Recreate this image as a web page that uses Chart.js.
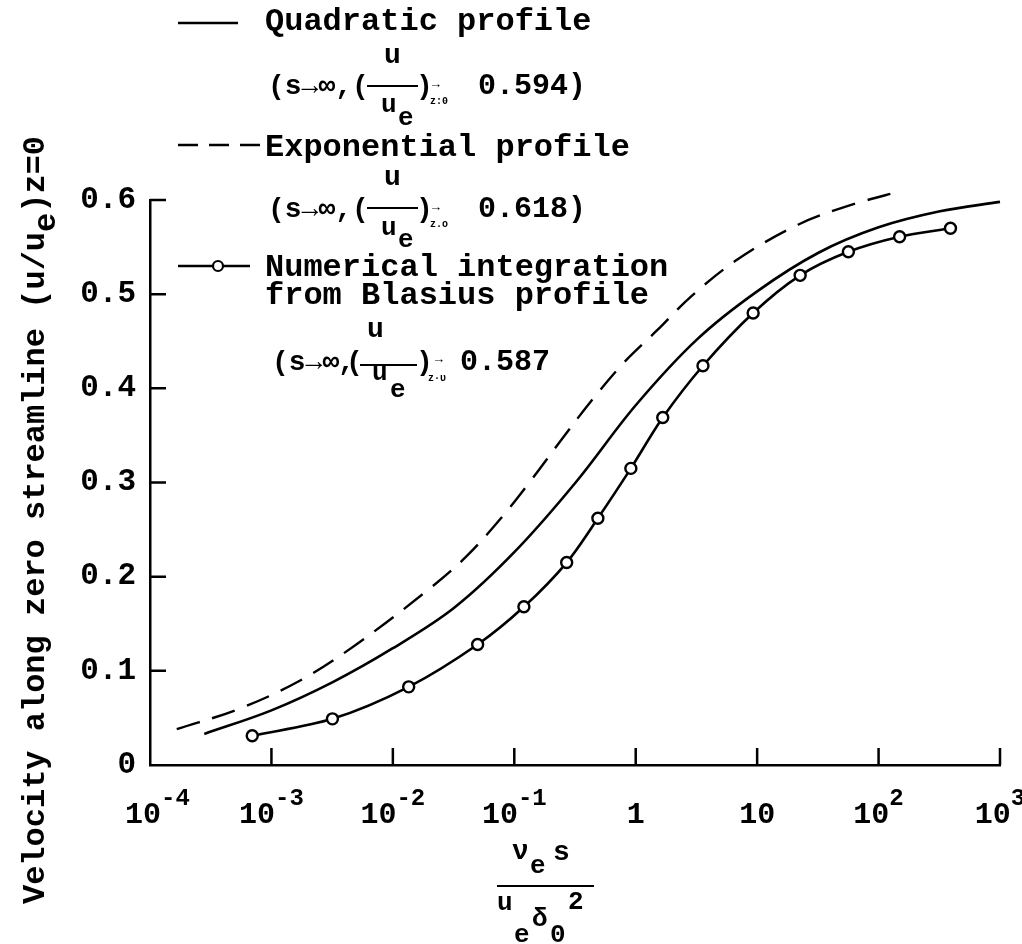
<!DOCTYPE html>
<html>
<head>
<meta charset="utf-8">
<script src="https://cdn.jsdelivr.net/npm/chart.js@4.4.1/dist/chart.umd.min.js"></script>
<style>
  html, body { margin: 0; padding: 0; background: #fff; }
  #wrap { position: relative; width: 1022px; height: 944px; overflow: hidden; background: #fff; }
  #c { position: absolute; left: 0; top: 0; }
  #marks { position: absolute; left: 0; top: 0; }
  .t {
    position: absolute;
    font-family: "Liberation Mono", "DejaVu Sans Mono", monospace;
    font-weight: bold;
    color: #000;
    white-space: pre;
    line-height: 1;
  }
  #ytitle {
    position: absolute;
    left: 36px;
    top: 520px;
    transform: translate(-50%, -50%) rotate(-90deg);
    font-family: "Liberation Mono", "DejaVu Sans Mono", monospace;
    font-weight: bold;
    font-size: 32px;
    line-height: 1;
    white-space: pre;
    color: #000;
  }
  #ytitle .sub { position: relative; top: 11px; }
</style>
</head>
<body>
<div id="wrap">
  <canvas id="c" width="1022" height="944"></canvas>
  <svg id="marks" width="1022" height="944">
    <!-- legend samples -->
    <line x1="178" y1="23" x2="238" y2="23" stroke="#000" stroke-width="2.5"/>
    <line x1="178" y1="145" x2="261" y2="145" stroke="#000" stroke-width="2.5" stroke-dasharray="20 11"/>
    <line x1="178" y1="266" x2="250" y2="266" stroke="#000" stroke-width="2.5"/>
    <circle cx="218" cy="266" r="5" fill="#fff" stroke="#000" stroke-width="2.2"/>
    <!-- fraction bars -->
    <line x1="367" y1="86" x2="418" y2="86" stroke="#000" stroke-width="2"/>
    <line x1="367" y1="208" x2="418" y2="208" stroke="#000" stroke-width="2"/>
    <line x1="360" y1="365" x2="417" y2="365" stroke="#000" stroke-width="2"/>
    <line x1="497" y1="886" x2="594" y2="886" stroke="#000" stroke-width="2"/>
  </svg>
  <div id="ytitle">Velocity along zero streamline (u/u<span class="sub">e</span>)z=0</div>
</div>
<script>
// ---------- DATA ----------
const quadX = [2.8e-4, 1e-3, 3.2e-3, 1e-2, 3.2e-2, 0.1, 0.32, 1, 3.2, 10, 32, 100, 320, 1000];
const quadY = [0.033, 0.058, 0.088, 0.124, 0.167, 0.226, 0.300, 0.382, 0.452, 0.503, 0.544, 0.571, 0.588, 0.598];

const expoX = [1.66e-4, 5.5e-4, 1.74e-3, 5.0e-3, 2.04e-2, 4.07e-2, 7.76e-2, 0.135, 0.24, 0.427, 0.794, 1.51, 2.88, 6.92, 21.9, 60.3, 158];
const expoY = [0.038, 0.060, 0.090, 0.128, 0.188, 0.222, 0.262, 0.301, 0.344, 0.386, 0.427, 0.462, 0.498, 0.537, 0.574, 0.595, 0.610];

const numX = [6.95e-4, 3.18e-3, 1.35e-2, 4.99e-2, 0.120, 0.270, 0.488, 0.912, 1.67, 3.58, 9.27, 22.6, 56.4, 149, 391];
const numY = [0.031, 0.049, 0.083, 0.128, 0.168, 0.215, 0.262, 0.315, 0.369, 0.424, 0.480, 0.520, 0.545, 0.561, 0.570];

const xTickValues = [1e-4, 1e-3, 1e-2, 1e-1, 1, 10, 1e2, 1e3];
const xTickBase = ["10", "10", "10", "10", "1", "10", "10", "10"];
const xTickExp = ["-4", "-3", "-2", "-1", "", "", "2", "3"];

const yTickValues = [0, 0.1, 0.2, 0.3, 0.4, 0.5, 0.6];
const yTickLabels = ["0", "0.1", "0.2", "0.3", "0.4", "0.5", "0.6"];

const FONT = '"Liberation Mono", "DejaVu Sans Mono", monospace';

// ---------- TEXT OVERLAY ----------
const wrap = document.getElementById("wrap");
function put(text, x, baseline, size) {
  const s = document.createElement("span");
  s.className = "t";
  s.textContent = text;
  s.style.fontSize = size + "px";
  s.style.left = x + "px";
  s.style.top = (baseline - 0.766 * size) + "px";
  wrap.appendChild(s);
}

// legend
put("Quadratic profile", 265, 31, 32);
put("u", 384, 63, 28);
put("(s\u2192\u221e,(", 268, 94, 28);
put(")", 416, 94, 28);
put("\u2192", 432, 88, 13);
put("z:0", 430, 105, 10);
put("0.594)", 478, 94, 30);
put("u", 381, 112, 26);
put("e", 398, 125, 26);

put("Exponential profile", 265, 157, 32);
put("u", 384, 185, 28);
put("(s\u2192\u221e,(", 268, 217, 28);
put(")", 416, 217, 28);
put("\u2192", 432, 211, 13);
put("z.o", 430, 228, 10);
put("0.618)", 478, 217, 30);
put("u", 381, 235, 26);
put("e", 398, 247, 26);

put("Numerical integration", 265, 277, 32);
put("from Blasius profile", 265, 305, 32);
put("u", 367, 337, 28);
put("(s\u2192\u221e", 272, 370, 28);
put(",", 338, 370, 28);
put("(", 346, 370, 28);
put(")", 416, 370, 28);
put("\u2192", 435, 363, 13);
put("z\u00b7\u03c5", 428, 382, 10);
put("0.587", 460, 370, 30);
put("u", 372, 380, 26);
put("e", 390, 397, 26);

// x axis title
put("\u03bd", 512, 859, 28);
put("e", 530, 873, 26);
put("s", 553, 860, 28);
put("u", 497, 910, 26);
put("e", 514, 942, 26);
put("\u03b4", 532, 926, 26);
put("0", 550, 942, 26);
put("2", 568, 909, 26);

// ---------- INWARD TICKS + X LABELS ----------
const axisDecor = {
  id: "axisDecor",
  afterDraw(chart) {
    const { ctx, chartArea, scales: { x, y } } = chart;
    ctx.save();
    ctx.strokeStyle = "#000";
    ctx.lineWidth = 2.5;
    ctx.beginPath();
    y.ticks.forEach(t => {
      if (t.value <= 0) return;
      const py = y.getPixelForValue(t.value);
      ctx.moveTo(chartArea.left, py);
      ctx.lineTo(chartArea.left + 16, py);
    });
    x.ticks.forEach(t => {
      if (t.value <= xTickValues[0]) return;
      const px = x.getPixelForValue(t.value);
      ctx.moveTo(px, chartArea.bottom);
      ctx.lineTo(px, chartArea.bottom - 17);
    });
    ctx.stroke();

    // tick labels with raised exponents
    ctx.fillStyle = "#000";
    ctx.textAlign = "left";
    ctx.textBaseline = "alphabetic";
    xTickValues.forEach((v, i) => {
      const px = x.getPixelForValue(v);
      ctx.font = "bold 30px " + FONT;
      const wb = ctx.measureText(xTickBase[i]).width;
      ctx.font = "bold 24px " + FONT;
      const we = ctx.measureText(xTickExp[i]).width;
      let x0 = px - (wb + we) / 2;
      if (x0 < 125) x0 = 125;
      ctx.font = "bold 30px " + FONT;
      ctx.fillText(xTickBase[i], x0, 823);
      ctx.font = "bold 24px " + FONT;
      ctx.fillText(xTickExp[i], x0 + wb, 805);
    });
    ctx.restore();
  }
};

// ---------- CHART ----------
const pts = (xs, ys) => xs.map((v, i) => ({ x: v, y: ys[i] }));

new Chart(document.getElementById("c"), {
  type: "line",
  data: {
    datasets: [
      {
        label: "Quadratic profile",
        data: pts(quadX, quadY),
        borderColor: "#000",
        borderWidth: 2.6,
        pointRadius: 0,
        tension: 0.35,
        clip: false
      },
      {
        label: "Exponential profile",
        data: pts(expoX, expoY),
        borderColor: "#000",
        borderWidth: 2.4,
        borderDash: [24, 13],
        pointRadius: 0,
        tension: 0.35,
        clip: false
      },
      {
        label: "Numerical integration from Blasius profile",
        data: pts(numX, numY),
        borderColor: "#000",
        borderWidth: 2.6,
        pointRadius: 5.5,
        pointBorderWidth: 2.4,
        pointBackgroundColor: "#fff",
        pointBorderColor: "#000",
        tension: 0.3,
        clip: false
      }
    ]
  },
  options: {
    responsive: false,
    animation: false,
    devicePixelRatio: 1,
    layout: { padding: { top: 200, right: 22, left: 0, bottom: 0 } },
    plugins: { legend: { display: false }, tooltip: { enabled: false } },
    scales: {
      x: {
        type: "logarithmic",
        min: 1e-4,
        max: 1e3,
        afterBuildTicks: s => { s.ticks = xTickValues.map(v => ({ value: v })); },
        afterFit: s => { s.height = 179; },
        grid: { drawOnChartArea: false, drawTicks: false },
        border: { color: "#000", width: 2.5 },
        ticks: { display: false }
      },
      y: {
        min: 0,
        max: 0.6,
        afterBuildTicks: s => { s.ticks = yTickValues.map(v => ({ value: v })); },
        afterFit: s => { s.width = 150; },
        grid: { drawOnChartArea: false, drawTicks: false },
        border: { color: "#000", width: 2.5 },
        ticks: {
          color: "#000",
          padding: 14,
          font: { family: FONT, size: 31, weight: "bold" },
          callback: (v, i) => yTickLabels[i]
        }
      }
    }
  },
  plugins: [axisDecor]
});
</script>
</body>
</html>
